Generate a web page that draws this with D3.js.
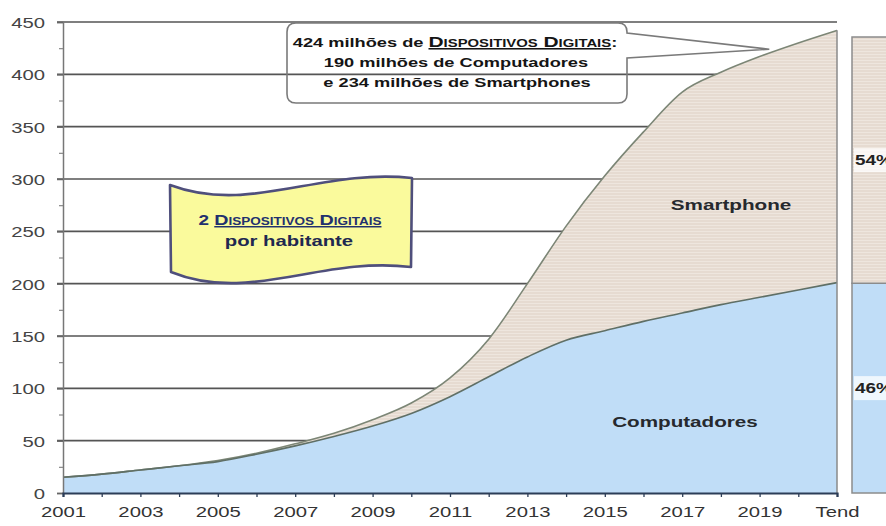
<!DOCTYPE html>
<html>
<head>
<meta charset="utf-8">
<script src="https://cdn.jsdelivr.net/npm/d3@7"></script>
<style>
  html, body { margin: 0; padding: 0; background: #fff; }
  svg { display: block; font-family: "Liberation Sans", Arial, Helvetica, sans-serif; }
</style>
</head>
<body>
<svg id="chart" width="886" height="526"></svg>
<script>
// Installed base of digital devices in Brazil (millions)
const categorias = ["2001","2002","2003","2004","2005","2006","2007","2008","2009","2010",
                    "2011","2012","2013","2014","2015","2016","2017","2018","2019","2020","Tend"];
const computadores = [15, 18, 22, 26, 30, 37, 45, 54, 64, 76, 92, 111, 130, 146, 155, 164, 172, 180, 187, 194, 201];
const smartphones  = [ 0,  0,  0,  0,  1,  1,  2,  3,  6, 10, 18,  36,  70, 109, 148, 181, 211, 222, 230, 236, 241];
const yTicks = [0, 50, 100, 150, 200, 250, 300, 350, 400, 450];
const yMinorTicks = [25, 75, 125, 175, 225, 275, 325, 375, 425];
const xLabels = categorias.filter((d, i) => i % 2 === 0);
const partilhaNomes = ["Computadores", "Smartphone"];
const partilhaPct = [46, 54];
const totalDispositivos = 424;
const totalComputadores = 190;
const totalSmartphones = 234;

const K = 1.35; // horizontal widening applied to all text
function stretch(sel) {
  sel.each(function () {
    const w = this.getComputedTextLength();
    if (w > 0) {
      this.setAttribute("textLength", (w * K).toFixed(1));
      this.setAttribute("lengthAdjust", "spacingAndGlyphs");
    }
  });
}

const svg = d3.select("#chart");
const mLeft = 63, mRight = 837, mTop = 22, mBottom = 493;

const x = d3.scalePoint().domain(categorias).range([mLeft, mRight]);
const y = d3.scaleLinear().domain([0, 450]).range([mBottom, mTop]);

// Stripe texture for the smartphone area
const defs = svg.append("defs");
const pat = defs.append("pattern").attr("id", "riscas")
  .attr("patternUnits", "userSpaceOnUse").attr("width", 6).attr("height", 3);
pat.append("rect").attr("width", 6).attr("height", 3).attr("fill", "#e6dbd1");
pat.append("rect").attr("width", 6).attr("height", 1).attr("fill", "#eee6de");

// Horizontal gridlines
svg.append("g").selectAll("line").data(yTicks.filter(d => d > 0)).join("line")
  .attr("x1", mLeft - 6).attr("x2", mRight)
  .attr("y1", d => y(d)).attr("y2", d => y(d))
  .attr("stroke", "#555").attr("stroke-width", 1.6);

// Stacked areas
const rows = categorias.map((c, i) => ({ cat: c, comp: computadores[i], smart: smartphones[i] }));
const series = d3.stack().keys(["comp", "smart"])(rows);
const area = d3.area()
  .x(d => x(d.data.cat)).y0(d => y(d[0])).y1(d => y(d[1]))
  .curve(d3.curveMonotoneX);
const line = d3.line()
  .x(d => x(d.data.cat)).y(d => y(d[1]))
  .curve(d3.curveMonotoneX);

svg.append("g").selectAll("path").data(series).join("path")
  .attr("d", area)
  .attr("fill", (d, i) => i === 0 ? "#c0ddf7" : "url(#riscas)");

svg.append("g").selectAll("path").data(series.slice().reverse()).join("path")
  .attr("d", line)
  .attr("fill", "none")
  .attr("stroke", (d, i) => i === 0 ? "#7c8676" : "#5f6f66")
  .attr("stroke-width", 1.6);

// Right edge of the plotted area
const last = categorias[categorias.length - 1];
const lastTot = computadores[computadores.length - 1] + smartphones[smartphones.length - 1];
svg.append("line")
  .attr("x1", x(last)).attr("x2", x(last))
  .attr("y1", y(lastTot)).attr("y2", y(0))
  .attr("stroke", "#8a8a8a").attr("stroke-width", 1.5);

// Y axis
const yAxis = svg.append("g").attr("transform", `translate(${mLeft},0)`)
  .call(d3.axisLeft(y).tickValues(yTicks).tickSize(6).tickPadding(12));
yAxis.select(".domain").attr("stroke", "#777").attr("stroke-width", 1.5);
yAxis.selectAll(".tick line").attr("stroke", "#666").attr("stroke-width", 1.5);
yAxis.selectAll("text").attr("font-size", 15).attr("fill", "#444").attr("dy", "0.36em");
stretch(yAxis.selectAll("text"));

const yMinor = svg.append("g").attr("transform", `translate(${mLeft},0)`)
  .call(d3.axisLeft(y).tickValues(yMinorTicks).tickSize(4).tickFormat(""));
yMinor.select(".domain").remove();
yMinor.selectAll(".tick line").attr("stroke", "#888").attr("stroke-width", 1.2);

// X axis
const xAxis = svg.append("g").attr("transform", `translate(0,${mBottom})`)
  .call(d3.axisBottom(x).tickSize(4).tickPadding(9)
    .tickFormat(d => xLabels.includes(d) ? d : ""));
xAxis.select(".domain").attr("stroke", "#2c3d57").attr("stroke-width", 2.2);
xAxis.selectAll(".tick line").attr("stroke", "#2c3d57").attr("stroke-width", 1.3);
xAxis.selectAll("text").attr("font-size", 15).attr("fill", "#333");
stretch(xAxis.selectAll("text"));

// Share bar on the right
const yP = d3.scaleLinear().domain([0, 100]).range([mBottom, 37]);
const partStack = d3.stack().keys(partilhaNomes)([
  Object.fromEntries(partilhaNomes.map((n, i) => [n, partilhaPct[i]]))
]);
const barX = 852;
svg.append("g").selectAll("rect").data(partStack).join("rect")
  .attr("x", barX).attr("width", 60)
  .attr("y", d => yP(d[0][1])).attr("height", d => yP(d[0][0]) - yP(d[0][1]))
  .attr("fill", (d, i) => i === 0 ? "#c0ddf7" : "url(#riscas)")
  .attr("stroke", "#8c8c8c").attr("stroke-width", 1.5);

const pctLbl = svg.append("g").selectAll("g").data(partStack).join("g")
  .attr("transform", d => `translate(${barX + 2},${yP((d[0][0] + d[0][1]) / 2)})`);
pctLbl.append("rect").attr("x", 0).attr("y", -12).attr("width", 40).attr("height", 24)
  .attr("fill", "#fff").attr("opacity", 0.75);
const pctText = pctLbl.append("text").attr("x", 1).attr("dy", "0.36em")
  .attr("font-size", 14).attr("font-weight", "bold").attr("fill", "#222")
  .text((d, i) => partilhaPct[i] + "%");
stretch(pctText);

// Series labels inside the areas
const serieLbl = svg.append("g").selectAll("text")
  .data([{ t: "Smartphone", cx: 731, by: 210 }, { t: "Computadores", cx: 685, by: 427 }])
  .join("text")
  .attr("x", d => d.cx).attr("y", d => d.by).attr("text-anchor", "middle")
  .attr("font-size", 15.3).attr("font-weight", "bold").attr("fill", "#26292e")
  .text(d => d.t);
stretch(serieLbl);

// Callout with total count
const bx0 = 287, bx1 = 627, by0 = 23, by1 = 103, r = 9;
const tipX = x("2019") + x.step() * 0.25, tipY = y(totalDispositivos);
svg.append("path")
  .attr("d", `M${bx0 + r},${by0} H${bx1 - r} Q${bx1},${by0} ${bx1},${by0 + r} V${by0 + 10}
              L${tipX},${tipY} L${bx1},${by0 + 35} V${by1 - r} Q${bx1},${by1} ${bx1 - r},${by1}
              H${bx0 + r} Q${bx0},${by1} ${bx0},${by1 - r} V${by0 + r} Q${bx0},${by0} ${bx0 + r},${by0} Z`)
  .attr("fill", "none").attr("stroke", "#7a7a7a").attr("stroke-width", 1.6);

const cTxt = svg.append("g").attr("font-size", 13.5).attr("font-weight", "bold")
  .attr("fill", "#151515").attr("text-anchor", "middle");
const c1 = cTxt.append("text").attr("x", 455).attr("y", 47);
c1.append("tspan").text(totalDispositivos + " milhões de ");
c1.append("tspan").attr("font-variant", "small-caps").attr("font-size", 15.5)
  .style("text-decoration", "underline").text("Dispositivos Digitais");
c1.append("tspan").text(":");
cTxt.append("text").attr("x", 456).attr("y", 67)
  .text(totalComputadores + " milhões de Computadores");
cTxt.append("text").attr("x", 457).attr("y", 87)
  .text("e " + totalSmartphones + " milhões de Smartphones");
stretch(cTxt.selectAll("text"));

// Wavy banner
svg.append("path")
  .attr("d", "M170,185 C250,215 320,168 412,178 L411,267 C320,256 250,304 171,272 Z")
  .attr("fill", "#fafa9c").attr("stroke", "#4f4f7c").attr("stroke-width", 2.6)
  .attr("stroke-linejoin", "round");
const fTxt = svg.append("g").attr("font-weight", "bold").attr("text-anchor", "middle");
const f1 = fTxt.append("text").attr("x", 290).attr("y", 225).attr("font-size", 14)
  .attr("fill", "#22306e");
f1.append("tspan").text("2 ");
f1.append("tspan").attr("font-variant", "small-caps").attr("font-size", 14.6)
  .style("text-decoration", "underline").text("Dispositivos Digitais");
fTxt.append("text").attr("x", 289).attr("y", 246).attr("font-size", 15)
  .attr("fill", "#1f2850").text("por habitante");
stretch(fTxt.selectAll("text"));
</script>
</body>
</html>
